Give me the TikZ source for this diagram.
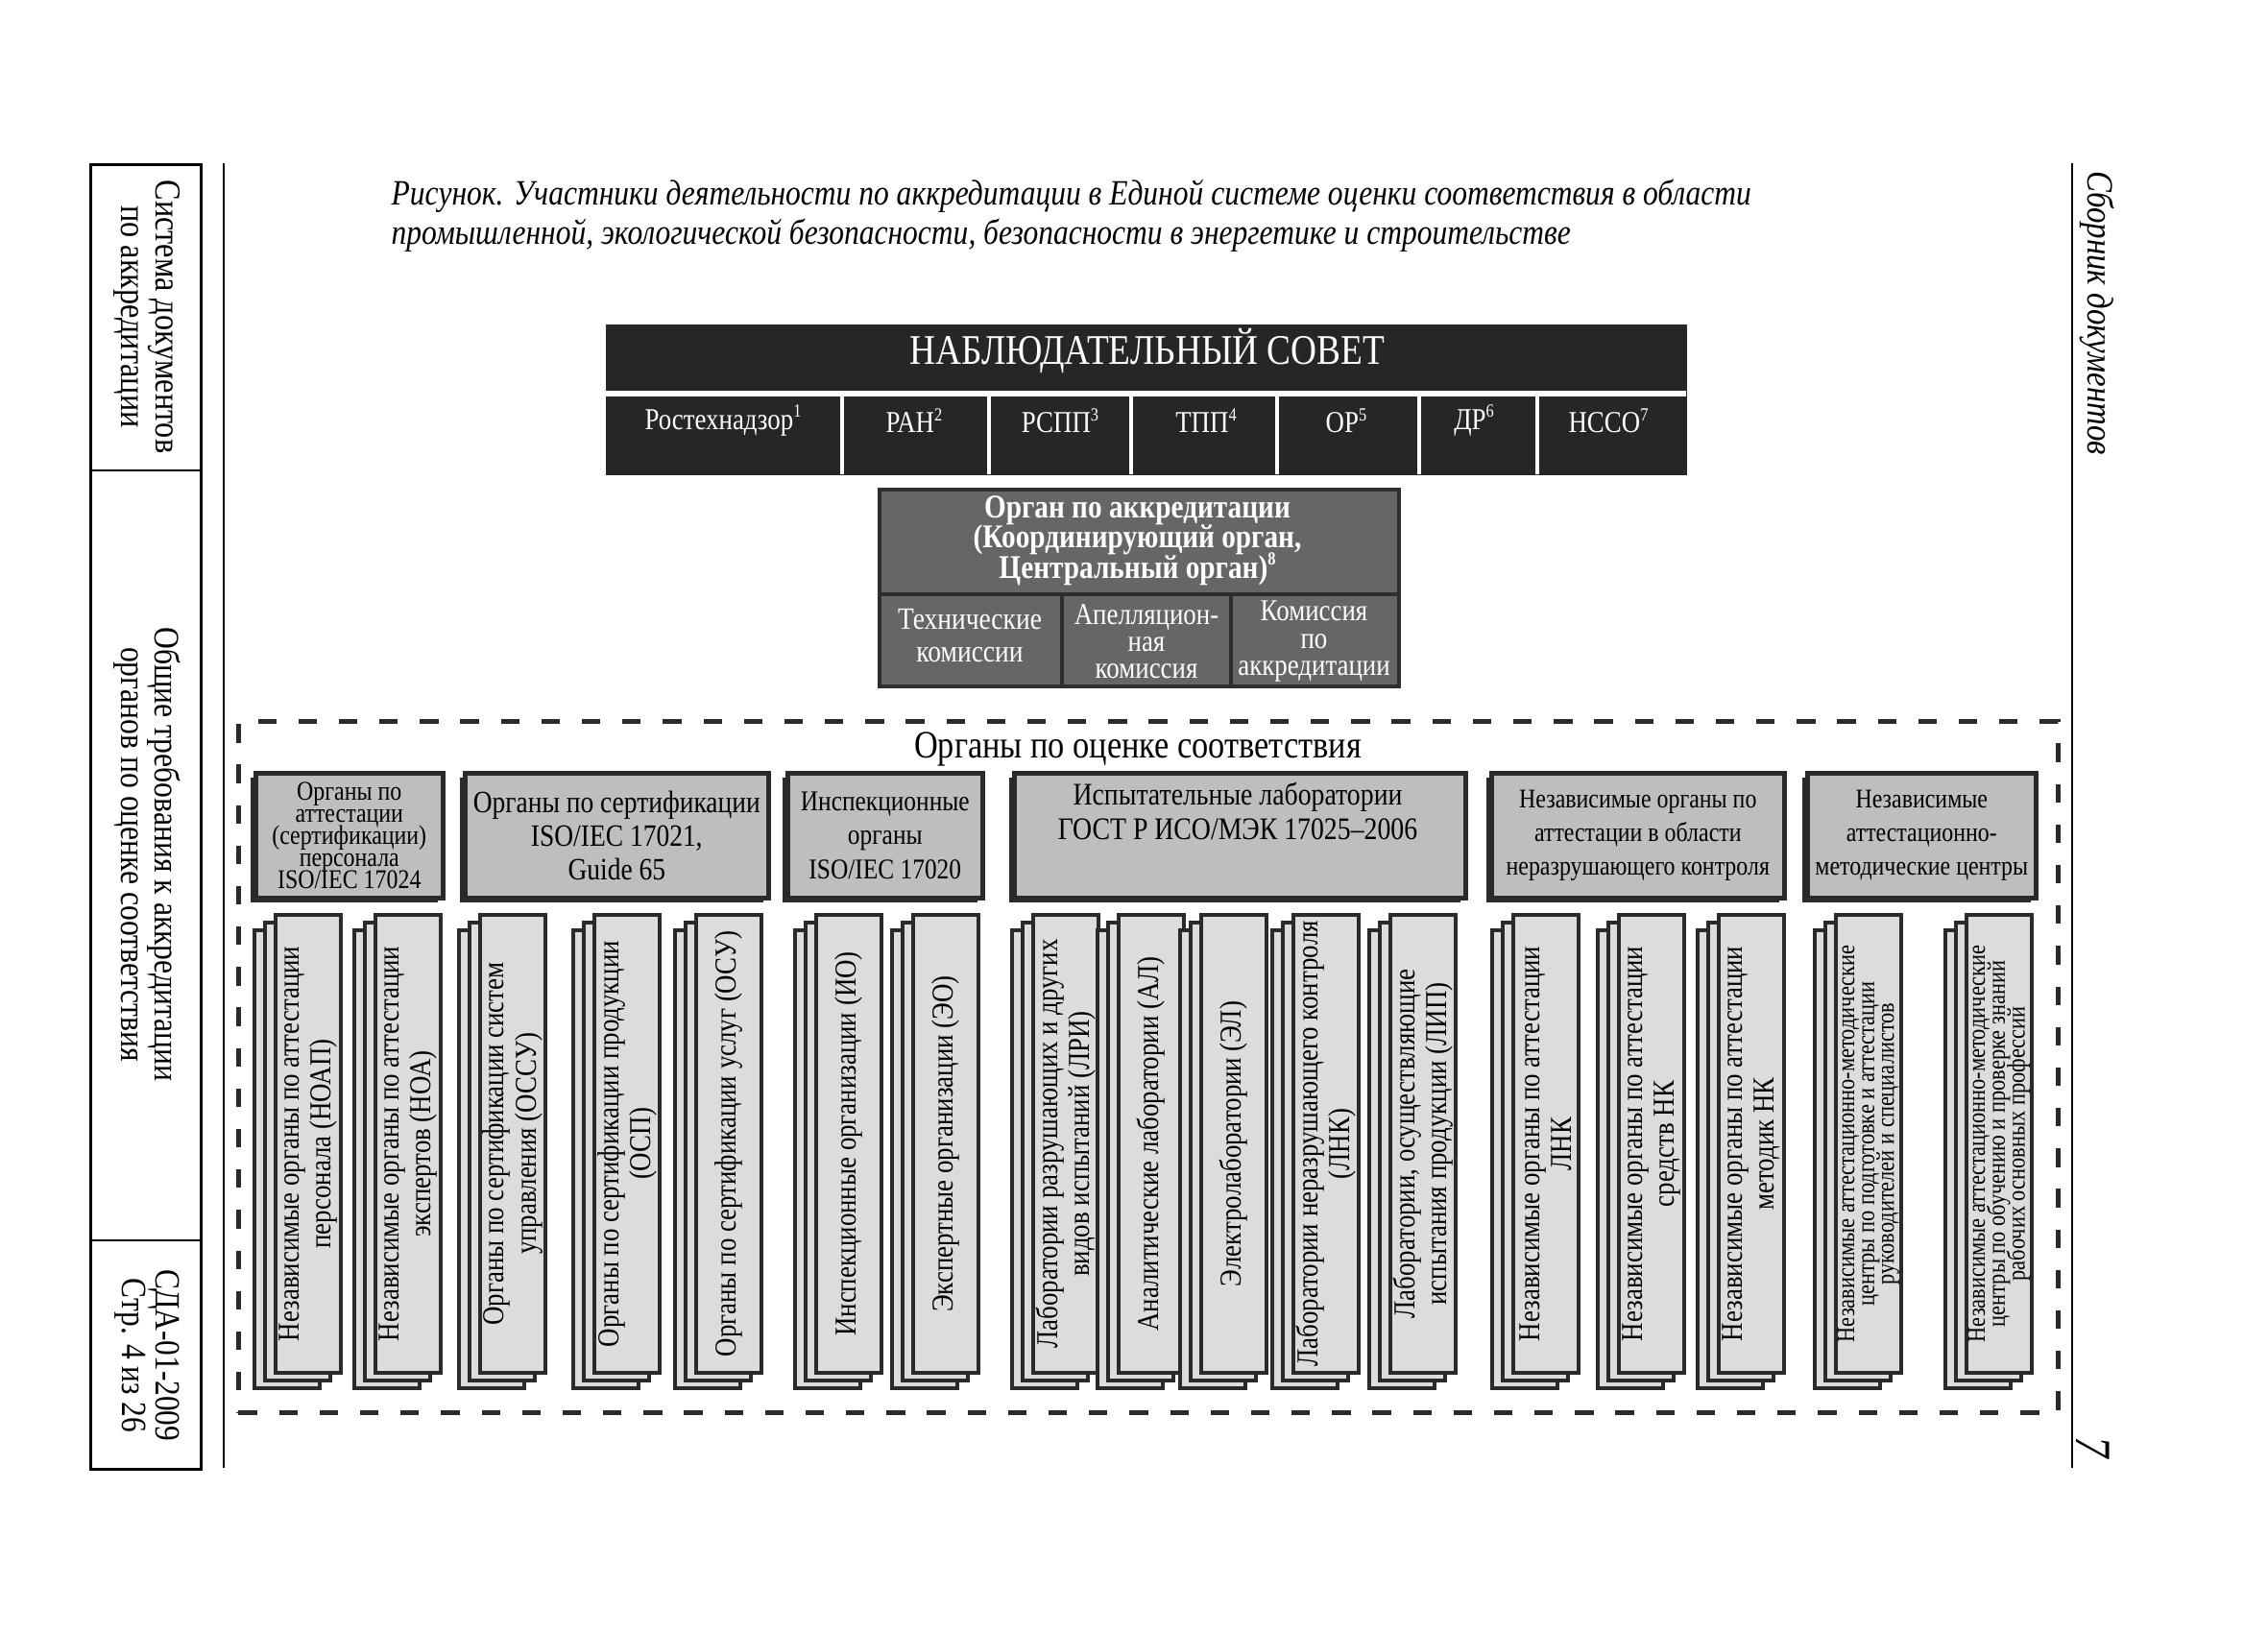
\documentclass[tikz,border=0pt]{standalone}
\usepackage{fontspec}
\setmainfont{Liberation Serif}[FakeStretch=0.85]
\usetikzlibrary{shadows}
\newcommand\myfs[2]{\fontsize{#1}{#2}\selectfont\lineskiplimit=-20pt\relax}
\newcommand\tinysup[1]{\raisebox{0.85ex}{\myfs{5.5}{6}#1}}
\definecolor{darkbox}{HTML}{262626}
\definecolor{organ}{HTML}{666666}
\definecolor{organline}{HTML}{2E2E2E}
\definecolor{catfill}{HTML}{BEBEBE}
\definecolor{sheetfill}{HTML}{DCDCDC}
\definecolor{edge}{HTML}{2A2A2A}
\tikzset{
  frameline/.style={draw=black, line width=0.8pt},
  councilcell/.style={text=white, font=\myfs{9}{10}, inner sep=0pt},
  whitediv/.style={draw=white, line width=1.3pt},
  organdiv/.style={draw=organline, line width=1.2pt},
  organcell/.style={text=white, font=\myfs{9}{8}, align=center, inner sep=0pt},
  cat/.style={draw=edge, line width=1.3pt, fill=catfill, anchor=north west, inner sep=0pt,
    align=center, minimum height=1.30cm,
    drop shadow={shadow xshift=-0.05cm, shadow yshift=-0.05cm, fill=edge, opacity=1}},
  sheet/.style={draw=edge, line width=1.1pt, fill=sheetfill, anchor=north west,
    minimum width=0.68cm, minimum height=4.77cm, inner sep=0pt},
  sheettext/.style={rotate=90, align=center, inner sep=0pt},
}
\newcommand\sheetstack[4][\myfs{9}{9.4}]{%
  \node[sheet] (#2c) at (#3-0.22,-9.67) {};
  \node[sheet] (#2b) at (#3-0.11,-9.59) {};
  \node[sheet] (#2) at (#3,-9.51) {};
  \node[sheettext, font=#1] (#2t) at (#2.center) {#4};
}
\begin{document}
\begin{tikzpicture}
\useasboundingbox (0,0) rectangle (23.62,-17.00);
\fill[white] (0,0) rectangle (23.62,-17.00);

% left margin frame
\node[frameline, anchor=north west, minimum width=1.15cm, minimum height=13.59cm, inner sep=0pt] (marginbox) at (0.93,-1.70) {};
\draw[frameline] (0.93,-4.90) -- (2.08,-4.90);
\draw[frameline] (0.93,-12.92) -- (2.08,-12.92);
\draw[frameline] (2.33,-1.70) -- (2.33,-15.29);
\node[rotate=-90, align=center, font=\myfs{10.8}{10}] (mt1) at (1.53,-3.30) {Система документов\\по аккредитации};
\node[rotate=-90, align=center, font=\myfs{10.6}{10}] (mt2) at (1.53,-8.90) {Общие требования к аккредитации\\органов по оценке соответствия};
\node[rotate=-90, align=center, font=\myfs{10.5}{10}] (mt3) at (1.53,-14.12) {СДА-01-2009\\Стр. 4 из 26};

% right margin
\draw[frameline] (21.58,-1.70) -- (21.58,-15.29);
\node[rotate=-90, font=\itshape\myfs{11}{12}] (rt1) at (21.84,-3.26) {Сборник документов};
\node[rotate=-90, font=\itshape\myfs{15}{16}] (pagenum) at (21.80,-15.08) {7};

% caption
\node[anchor=north west, align=left, font=\itshape\myfs{10.55}{11.7}, inner sep=0pt] (caption) at (4.07,-1.86)
  {Рисунок. Участники деятельности по аккредитации в Единой системе оценки соответствия в области\\
   промышленной, экологической безопасности, безопасности в энергетике и строительстве};

% supervisory council
\node[fill=darkbox, anchor=north west, minimum width=11.26cm, minimum height=1.57cm, inner sep=0pt] (council) at (6.30,-3.37) {};
\node[text=white, font=\myfs{12.5}{13}] (counciltitle) at (11.95,-3.66) {НАБЛЮДАТЕЛЬНЫЙ СОВЕТ};
\draw[whitediv, line width=1.6pt] (6.30,-4.10) -- (17.56,-4.10);
\foreach \xx in {8.77,10.30,11.78,13.30,14.78,16.01} \draw[whitediv] (\xx,-4.12) -- (\xx,-4.94);
\node[councilcell] (c1) at (7.53,-4.38) {Ростехнадзор\tinysup{1}};
\node[councilcell] (c2) at (9.52,-4.38) {РАН\tinysup{2}};
\node[councilcell] (c3) at (11.04,-4.38) {РСПП\tinysup{3}};
\node[councilcell] (c4) at (12.56,-4.38) {ТПП\tinysup{4}};
\node[councilcell] (c5) at (14.02,-4.38) {ОР\tinysup{5}};
\node[councilcell] (c6) at (15.35,-4.38) {ДР\tinysup{6}};
\node[councilcell] (c7) at (16.75,-4.38) {НССО\tinysup{7}};

% accreditation body
\node[fill=organ, draw=organline, line width=1.2pt, anchor=north west, minimum width=5.41cm, minimum height=2.05cm, inner sep=0pt] (organ) at (9.14,-5.08) {};
\draw[organdiv] (9.14,-6.19) -- (14.55,-6.19);
\draw[organdiv] (11.06,-6.19) -- (11.06,-7.13);
\draw[organdiv] (12.82,-6.19) -- (12.82,-7.13);
\node[text=white, font=\bfseries\myfs{9.8}{8.9}, align=center, inner sep=0pt] (organtitle) at (11.845,-5.63)
  {Орган по аккредитации\\(Координирующий орган,\\Центральный орган)\tinysup{8}};
\node[organcell, font=\myfs{9.2}{9.8}] (oc1) at (10.10,-6.62) {Технические\\комиссии};
\node[organcell] (oc2) at (11.94,-6.68) {Апелляцион-\\ная\\комиссия};
\node[organcell] (oc3) at (13.685,-6.68) {Комиссия\\по\\аккредитации};

% conformity assessment bodies
\node[draw=edge, line width=1.4pt, dash pattern=on 5.5pt off 6.5pt, anchor=north west,
  minimum width=18.95cm, minimum height=7.20cm, inner sep=0pt] (cab) at (2.46,-7.49) {};
\node[font=\myfs{11.5}{12}] (cabtitle) at (11.85,-7.80) {Органы по оценке соответствия};

\node[cat, minimum width=1.95cm, font=\myfs{8}{6.6}] (k1) at (2.64,-8.03)
  {Органы по\\аттестации\\(сертификации)\\персонала\\ISO/IEC 17024};
\node[cat, minimum width=3.16cm, font=\myfs{9.2}{10}] (k2) at (4.82,-8.03)
  {Органы по сертификации\\ISO/IEC 17021,\\Guide 65};
\node[cat, minimum width=2.03cm, font=\myfs{8.5}{10}] (k3) at (8.18,-8.03)
  {Инспекционные\\органы\\ISO/IEC 17020};
\node[cat, minimum width=4.70cm] (k4) at (10.54,-8.03) {};
\node[align=center, font=\myfs{9.3}{10.2}, inner sep=0pt] (k4t) at (12.89,-8.45)
  {Испытательные лаборатории\\ГОСТ Р ИСО/МЭК 17025–2006};
\node[cat, minimum width=3.05cm, font=\myfs{8}{10}] (k5) at (15.51,-8.03)
  {Независимые органы по\\аттестации в области\\неразрушающего контроля};
\node[cat, minimum width=2.38cm, font=\myfs{8}{10}] (k6) at (18.80,-8.03)
  {Независимые\\аттестационно-\\методические центры};

% stacks
\sheetstack{s1}{2.85}{Независимые органы по аттестации\\персонала (НОАП)}
\sheetstack{s2}{3.89}{Независимые органы по аттестации\\экспертов (НОА)}
\sheetstack{s3}{4.98}{Органы по сертификации систем\\управления (ОССУ)}
\sheetstack{s4}{6.17}{Органы по сертификации продукции\\(ОСП)}
\sheetstack{s5}{7.23}{Органы по сертификации услуг (ОСУ)}
\sheetstack{s6}{8.48}{Инспекционные организации (ИО)}
\sheetstack{s7}{9.49}{Экспертные организации (ЭО)}
\sheetstack{s8}{10.74}{Лаборатории разрушающих и других\\видов испытаний (ЛРИ)}
\sheetstack{s9}{11.63}{Аналитические лаборатории (АЛ)}
\sheetstack{s10}{12.49}{Электролаборатории (ЭЛ)}
\sheetstack{s11}{13.45}{Лаборатории неразрушающего контроля\\(ЛНК)}
\sheetstack{s12}{14.46}{Лаборатории, осуществляющие\\испытания продукции (ЛИП)}
\sheetstack{s13}{15.74}{Независимые органы по аттестации\\ЛНК}
\sheetstack{s14}{16.84}{Независимые органы по аттестации\\средств НК}
\sheetstack{s15}{17.88}{Независимые органы по аттестации\\методик НК}
\sheetstack[\myfs{7.5}{5.9}]{s16}{19.10}{Независимые аттестационно-методические\\центры по подготовке и аттестации\\руководителей и специалистов}
\sheetstack[\myfs{7.5}{5.9}]{s17}{20.46}{Независимые аттестационно-методические\\центры по обучению и проверке знаний\\рабочих основных профессий}
\end{tikzpicture}
\end{document}
